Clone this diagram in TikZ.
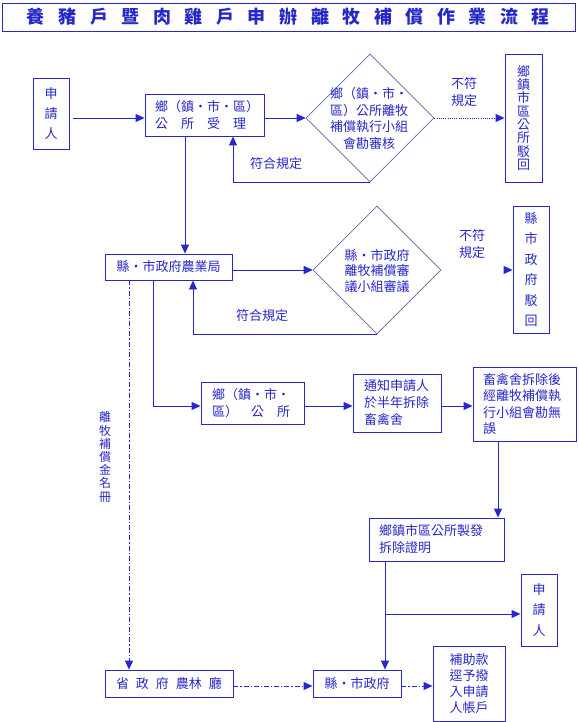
\documentclass[tikz,border=0pt]{standalone}
\usepackage{fontspec}
\setmainfont{Noto Sans CJK TC}
\usetikzlibrary{arrows.meta,shapes.geometric,calc}
\definecolor{mb}{RGB}{40,40,200}
\definecolor{dg}{RGB}{100,100,175}
\newcommand\fsn{\fontsize{13pt}{17pt}\selectfont}
\begin{document}
\begin{tikzpicture}[x=1pt,y=-1pt,
  box/.style={draw=mb, line width=0.9pt, text=mb, inner sep=0pt, font=\fsn},
  vbox/.style={box, align=center},
  lbox/.style={box, align=left},
  dia/.style={draw=dg, line width=0.6pt, shape=diamond, minimum width=128pt, minimum height=128pt, inner sep=0pt},
  lbl/.style={text=mb, font=\fsn, align=center, inner sep=0pt},
  arr/.style={draw=mb, line width=0.9pt, -{Triangle[length=9pt,width=8pt]}},
  dashdot/.style={dash pattern=on 5pt off 2pt on 1.2pt off 2pt},
  dots/.style={dash pattern=on 1pt off 1.2pt}]
\useasboundingbox (0,0) rectangle (578,722);
\fill[white] (0,0) rectangle (578,722);

% title
\node[box, minimum width=573pt, minimum height=28pt] (title) at (288.5,17)
  {\bfseries\fontsize{18pt}{18pt}\selectfont\hbox to 523pt{養\hfil 豬\hfil 戶\hfil 暨\hfil 肉\hfil 雞\hfil 戶\hfil 申\hfil 辦\hfil 離\hfil 牧\hfil 補\hfil 償\hfil 作\hfil 業\hfil 流\hfil 程}};

% coordinates for rows and columns
\coordinate (ry1) at (0,118);
\coordinate (ry3) at (0,406);
\coordinate (ry5) at (0,686);
\coordinate (cx233) at (233,0);
\coordinate (cx185) at (185,0);
\coordinate (cx193) at (193,0);
\coordinate (cx153) at (153,0);
\coordinate (cx129) at (129,0);
\coordinate (cx498) at (498,0);
\coordinate (cx385) at (385,0);
\coordinate (br) at (385,614);

% row 1
\node[vbox, minimum width=36pt, minimum height=71pt, font=\fontsize{13pt}{20pt}\selectfont] (a1) at (51,113.5) {申\\請\\人};
\node[lbox, minimum height=42pt, text width=99pt, inner xsep=10pt] (b) at (204.5,115)
  {鄉（鎮・市・區）\\公　所　受　理};
\node[dia] (d1) at (370,118) {};
\node[lbl, font=\fontsize{13pt}{16.5pt}\selectfont] (d1t) at (369,118.5) {鄉（鎮・市・\\區）公所離牧\\補償執行小組\\會勘審核};
\node[vbox, minimum width=37pt, minimum height=128pt, font=\fontsize{13pt}{13.3pt}\selectfont] (r1) at (523.5,118) {鄉\\鎮\\市\\區\\公\\所\\駁\\回};
\node[lbl] (nf1) at (464,92) {不符\\規定};
\node[lbl] (fh1) at (276,164) {符合規定};

% row 2
\node[box, minimum width=127pt, minimum height=26pt] (n) at (168.5,267) {縣・市政府農業局};
\node[dia] (d2) at (377,270) {};
\node[lbl, font=\fontsize{13pt}{15.5pt}\selectfont] (d2t) at (377,271) {縣・市政府\\離牧補償審\\議小組審議};
\node[vbox, minimum width=36pt, minimum height=127pt, font=\fontsize{13pt}{20.4pt}\selectfont] (r2) at (531,269.5) {縣\\市\\政\\府\\駁\\回};
\node[lbl] (nf2) at (472,244) {不符\\規定};
\node[lbl] (fh2) at (262,316) {符合規定};

% row 3
\node[lbox, minimum height=42pt, text width=81pt, inner xsep=11pt] (g) at (252.5,403)
  {鄉（鎮・市・\\區）　公　所};
\node[lbox, minimum height=58pt, text width=66pt, inner xsep=11pt] (t) at (397,403)
  {通知申請人\\於半年拆除\\畜禽舍};
\node[lbox, minimum height=74pt, text width=83pt, inner xsep=10pt, font=\fontsize{13pt}{16.5pt}\selectfont] (h) at (524.5,404)
  {畜禽舍拆除後\\經離牧補償執\\行小組會勘無\\誤};
\node[lbl, font=\fontsize{12pt}{13.2pt}\selectfont] (lst) at (105,457) {離\\牧\\補\\償\\金\\名\\冊};

% row 4
\node[lbox, minimum height=43pt, text width=115pt, inner xsep=10pt] (m) at (436.5,539.5)
  {鄉鎮市區公所製發\\拆除證明};
\node[vbox, minimum width=36pt, minimum height=72pt, font=\fontsize{13pt}{20.5pt}\selectfont] (a2) at (539,610) {申\\請\\人};

% row 5
\node[box, minimum width=128pt, minimum height=27pt] (p) at (169,683.5)
  {省\hspace{7pt}政\hspace{7pt}府\hspace{7pt}農林\hspace{7pt}廳};
\node[box, minimum width=88pt, minimum height=27pt] (q) at (357,683.5) {縣・市政府};
\node[vbox, minimum width=72pt, minimum height=75pt, font=\fontsize{13pt}{16pt}\selectfont] (s) at (469,683.5)
  {補助款\\逕予撥\\入申請\\人帳戶};

% connectors
\draw[arr, shorten <=4pt] (a1.east |- ry1) -- (b.west |- ry1);
\draw[arr] (b.east |- ry1) -- (d1.west);
\draw[arr, dots] (d1.east) -- (r1.west |- d1.east);
\draw[arr] (d1.south) -| (b.south -| cx233);
\draw[arr] (b.south -| cx185) -- (n.north -| cx185);
\draw[arr] (n.east |- d2.west) -- (d2.west);
\draw[arr] ($(r2.west |- d2.east)+(-9,0)$) -- (r2.west |- d2.east);
\draw[arr] (d2.south) -| (n.south -| cx193);
\draw[arr] (n.south -| cx153) |- (g.west |- ry3);
\draw[arr] (g.east |- ry3) -- (t.west |- ry3);
\draw[arr] (t.east |- ry3) -- (h.west |- ry3);
\draw[arr] (h.south -| cx498) -- (m.north -| cx498);
\draw[arr] (m.south -| cx385) -- (q.north -| cx385);
\draw[arr] (br) -- (a2.west |- br);
\draw[arr, dashdot] (n.south -| cx129) -- (p.north -| cx129);
\draw[arr, dashdot] (p.east |- ry5) -- (q.west |- ry5);
\draw[arr, dashdot] (q.east |- ry5) -- (s.west |- ry5);
\end{tikzpicture}
\end{document}
